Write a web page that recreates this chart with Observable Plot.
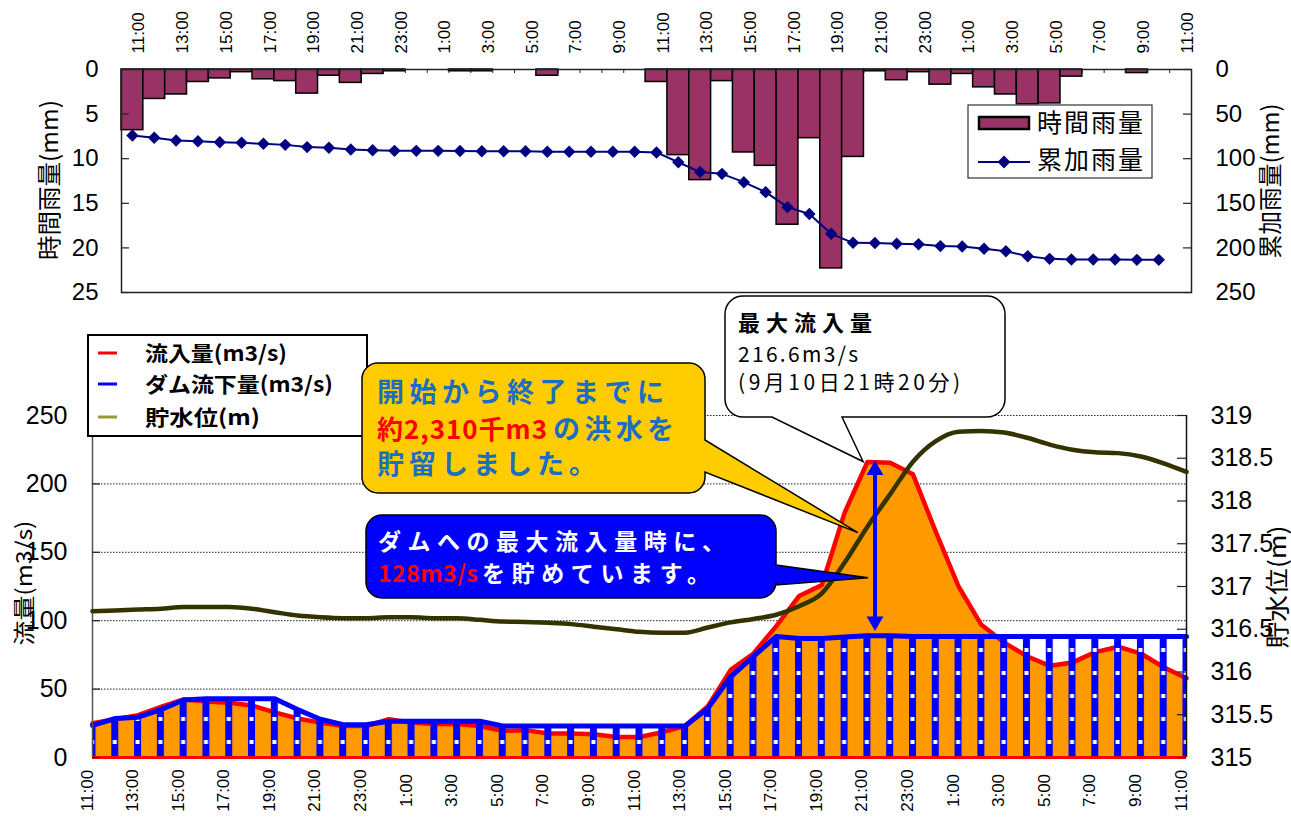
<!DOCTYPE html>
<html><head><meta charset="utf-8">
<script src="https://cdn.jsdelivr.net/npm/d3@7"></script>
<script src="https://cdn.jsdelivr.net/npm/@observablehq/plot@0.6"></script>
<style>
html,body{margin:0;padding:0;background:#fff;}
#wrap{position:relative;width:1291px;height:821px;overflow:hidden;font-family:"Liberation Sans",Arial,sans-serif;}
#wrap > svg{position:absolute;left:0;}
</style></head>
<body><div id="wrap"></div>
<script>
// ---- data ----
const timeLabels = ["11:00","12:00","13:00","14:00","15:00","16:00","17:00","18:00","19:00","20:00","21:00","22:00","23:00",
  "0:00","1:00","2:00","3:00","4:00","5:00","6:00","7:00","8:00","9:00","10:00","11:00","12:00","13:00","14:00","15:00","16:00","17:00","18:00","19:00","20:00","21:00","22:00","23:00",
  "0:00","1:00","2:00","3:00","4:00","5:00","6:00","7:00","8:00","9:00","10:00","11:00"];
const hourlyRain = [6.8,3.3,2.8,1.4,1.0,0.3,1.1,1.3,2.7,0.7,1.5,0.5,0.2,
  0,0,0.2,0.2,0,0,0.7,0,0,0,0,
  1.4,9.6,12.4,1.3,9.3,10.8,17.4,7.7,22.3,9.8,
  0.2,1.2,0.3,1.7,0.5,2.0,2.8,3.9,3.8,0.8,0,0,0.4,0,0];
const cumulativeRain = [74,76.6,79.5,80.5,81.5,82.2,83.3,84.5,87,87.8,89.6,90.6,91.2,
  91.2,91.2,91.4,91.6,91.6,91.6,92.2,92.2,92.2,92.2,92.2,
  93,104,115,117,126.3,137.5,154.3,162,184.2,194.3,
  194.6,195.4,196,198,198.4,201,203.7,209.3,212.3,213,213,213,213.4,213.4,null];
const inflow = [25,28,31,37,42.5,41,40,38,33,28.5,25.5,23,23,
  28,25.5,24.5,24.5,23,19.5,20,17.5,17.5,17,15,
  15,18.5,23,37.5,64,76,96,118,126,179,
  216,215.5,207,165,125,97,84,74,67,69.5,77,81,76,66,58];
const discharge = [23.5,28.5,29.5,35,42,43,43,43,43,35,28,24,24,
  26.5,26.5,26.5,26.5,26.5,23,23,23,23,23,23,
  23,23,23,36,59,74,88.5,87,87,88,
  89,89,88.5,88.5,88.5,88.5,88.5,88.5,88.5,88.5,88.5,88.5,88.5,88.5,88.5];
const waterLevel = [316.71,316.72,316.73,316.74,316.76,316.76,316.76,316.74,316.70,316.66,316.64,316.63,316.63,
  316.64,316.64,316.63,316.63,316.61,316.59,316.585,316.575,316.56,316.53,316.50,
  316.47,316.46,316.46,316.52,316.58,316.62,316.67,316.77,316.92,317.28,
  317.70,318.08,318.46,318.70,318.81,318.82,318.80,318.74,318.66,318.60,318.57,318.56,318.52,318.44,318.34];
const peakInflow = {time: 34 + 20/60, value: 216.6, stored: 128};
const rainTicks = [0,5,10,15,20,25];
const cumTicks = [0,50,100,150,200,250];
const flowTicks = [0,50,100,150,200,250];
const levelTicks = [315,315.5,316,316.5,317,317.5,318,318.5,319];

// ---- rows ----
const idx = d3.range(timeLabels.length);
const rows = idx.map(i => ({i, label: timeLabels[i], rain: hourlyRain[i], cum: cumulativeRain[i],
  inflow: inflow[i], discharge: discharge[i], level: waterLevel[i]}));
const labelIdx = idx.filter(i => i % 2 === 0);
const lvl = v => (v - 315) * 250 / 4;   // water level -> flow-axis units
const cumY = v => v / 10;               // cumulative -> hourly-axis units

const JP = '"Noto Sans CJK JP","Noto Sans",sans-serif';
const LAT = '"Liberation Sans",Arial,sans-serif';
const wrap = document.getElementById("wrap");

// ---- top chart ----
const topW = 1070, topH = 223;
const topPlot = Plot.plot({
  width: 1291, height: 312,
  marginTop: 69, marginBottom: 20, marginLeft: 121, marginRight: 100,
  style: {background: "transparent", fontFamily: LAT, color: "#000"},
  x: {domain: [-0.5, 48.5], axis: null, label: null},
  y: {domain: [0, 25], reverse: true, axis: null, label: null},
  marks: [
    Plot.rect(rows.filter(d => d.rain > 0), {x1: d => d.i - 0.5, x2: d => d.i + 0.5, y1: 0, y2: "rain",
      fill: "#993366", stroke: "#000", strokeWidth: 1.5}),
    Plot.line(rows.filter(d => d.cum != null), {x: "i", y: d => cumY(d.cum), stroke: "#000080", strokeWidth: 2}),
    Plot.dot(rows.filter(d => d.cum != null), {x: "i", y: d => cumY(d.cum), symbol: "diamond2", r: 5.6, fill: "#000080", stroke: "none"}),
    Plot.frame({stroke: "#222", strokeWidth: 1.5}),
    Plot.tickY(rainTicks, {y: d => d, insetRight: topW - 8, stroke: "#222", strokeWidth: 1.2}),
    Plot.tickY(rainTicks, {y: d => d, insetLeft: topW - 8, stroke: "#222", strokeWidth: 1.2}),
    Plot.tickX(d3.range(50).map(k => k - 0.5), {x: d => d, insetBottom: topH - 4, stroke: "#222", strokeWidth: 1}),
    Plot.axisY(rainTicks, {anchor: "left", label: null, tickSize: 0, tickPadding: 23, fontSize: 24, tickFormat: d => d}),
    Plot.axisY(cumTicks.map(cumY), {anchor: "right", label: null, tickSize: 0, tickPadding: 24, fontSize: 24, tickFormat: d => Math.round(d * 10)}),
    Plot.text(labelIdx, {x: d => d, text: d => timeLabels[d], frameAnchor: "top", dy: -16, rotate: -90,
      textAnchor: "start", fontSize: 17, fill: "#000"})
  ]
});
topPlot.style.top = "0px";
wrap.appendChild(topPlot);

// ---- bottom chart ----
const botTop = 300, botW = 1094;
const arrowRow = [{t: peakInflow.time, high: peakInflow.value, low: peakInflow.value - peakInflow.stored}];
const botPlot = Plot.plot({
  width: 1291, height: 521,
  marginTop: 115, marginBottom: 64, marginLeft: 92, marginRight: 105,
  style: {background: "transparent", fontFamily: LAT, color: "#000"},
  x: {domain: [0, 48], axis: null, label: null},
  y: {domain: [0, 250], axis: null, label: null},
  marks: [
    Plot.gridY([50, 100, 150, 200, 250], {stroke: "#222", strokeOpacity: 1, strokeDasharray: "1.5,1.5", strokeWidth: 1}),
    Plot.areaY(rows, {x: "i", y: "inflow", fill: "#FF9900"}),
    Plot.line(rows, {x: "i", y: "inflow", stroke: "#FF0000", strokeWidth: 4.5}),
    Plot.areaY(rows, {x: "i", y: "discharge", fill: "url(#dischargeStripes)"}),
    Plot.line(rows, {x: "i", y: "discharge", stroke: "#0000FF", strokeWidth: 5}),
    Plot.ruleY([0], {stroke: "#FF0000", strokeWidth: 3}),
    Plot.ruleX([0], {stroke: "#555", strokeWidth: 1.5}),
    Plot.ruleX([48], {stroke: "#111", strokeWidth: 1.5}),
    Plot.line(rows, {x: "i", y: d => lvl(d.level), stroke: "#333300", strokeWidth: 4.5, curve: "monotone-x"}),
    Plot.ruleX(arrowRow, {x: "t", y1: "high", y2: "low", stroke: "#0000FF", strokeWidth: 4, insetTop: 10, insetBottom: 16}),
    Plot.dot(arrowRow, {x: "t", y: "high", symbol: "triangle2", r: 8, fill: "#0000FF", stroke: "none", dy: 9}),
    Plot.dot(arrowRow, {x: "t", y: "low", symbol: "triangle2", r: 8, fill: "#0000FF", stroke: "none", rotate: 180, dy: -15}),
    Plot.tickY(flowTicks, {y: d => d, insetRight: botW - 8, stroke: "#222", strokeWidth: 1.2}),
    Plot.tickY(levelTicks.map(lvl), {y: d => d, insetLeft: botW - 9, stroke: "#222", strokeWidth: 1.2}),
    Plot.axisY(flowTicks, {anchor: "left", label: null, tickSize: 0, tickPadding: 25, fontSize: 25, tickFormat: d => d}),
    Plot.axisY(levelTicks.map(lvl), {anchor: "right", label: null, tickSize: 0, tickPadding: 24, fontSize: 25,
      tickFormat: d => String(+(315 + d * 4 / 250).toFixed(1))}),
    Plot.text(labelIdx, {x: d => d, text: d => timeLabels[d], frameAnchor: "bottom", dy: 33, rotate: -90,
      textAnchor: "middle", fontSize: 17, fill: "#000"})
  ]
});
botPlot.style.top = botTop + "px";
wrap.appendChild(botPlot);

// stripe pattern for the discharge area, aligned with the hourly positions of the x scale
const NS = "http://www.w3.org/2000/svg";
function el(tag, attrs, parent, text) {
  const e = document.createElementNS(NS, tag);
  for (const k in attrs) e.setAttribute(k, attrs[k]);
  if (text != null) e.textContent = text;
  if (parent) parent.appendChild(e);
  return e;
}
{
  const xs = botPlot.scale("x");
  const x0 = xs.apply(0), step = xs.apply(1) - x0;
  const defs = el("defs", {});
  botPlot.insertBefore(defs, botPlot.firstChild);
  const pat = el("pattern", {id: "dischargeStripes", patternUnits: "userSpaceOnUse",
    x: x0 - 3.5, y: 440, width: step, height: 23}, defs);
  el("rect", {x: 0, y: 0, width: 7, height: 23, fill: "#0000FF"}, pat);
  el("rect", {x: 1.5, y: 0, width: 4, height: 4, fill: "#FFFFFF"}, pat);
}

// ---- overlay: axis titles, legends, callouts ----
const ov = el("svg", {width: 1291, height: 821, viewBox: "0 0 1291 821"});
ov.style.top = "0px";
ov.style.pointerEvents = "none";
wrap.appendChild(ov);

function vtitle(txt, cx, cy, size, len) {
  el("text", {transform: `translate(${cx},${cy}) rotate(-90)`, "text-anchor": "middle", "dominant-baseline": "central",
    "font-family": JP, "font-size": size, fill: "#000", textLength: len, lengthAdjust: "spacingAndGlyphs"}, ov, txt);
}
vtitle("時間雨量(mm)", 47, 180, 24, 160);
vtitle("累加雨量(mm)", 1268, 181, 24, 155);
vtitle("流量(m3/s)", 22, 583, 22, 125);
vtitle("貯水位(m)", 1275, 587, 24, 123);

// top legend
el("rect", {x: 968, y: 105, width: 184, height: 73, fill: "#fff", stroke: "#333", "stroke-width": 1.2}, ov);
el("rect", {x: 979, y: 117, width: 50, height: 12, fill: "#993366", stroke: "#000", "stroke-width": 2.5}, ov);
el("text", {x: 1037, y: 132, "font-family": JP, "font-size": 25, fill: "#000", textLength: 106}, ov, "時間雨量");
el("line", {x1: 978, x2: 1030, y1: 162, y2: 162, stroke: "#000080", "stroke-width": 2}, ov);
el("path", {d: "M1004,155.5L1010.5,162L1004,168.5L997.5,162Z", fill: "#000080"}, ov);
el("text", {x: 1037, y: 169, "font-family": JP, "font-size": 25, fill: "#000", textLength: 106}, ov, "累加雨量");

// bottom legend
el("rect", {x: 88, y: 335, width: 279, height: 101, fill: "#fff", stroke: "#000", "stroke-width": 2}, ov);
[["流入量(m3/s)", "#FF0000", 353, 142], ["ダム流下量(m3/s)", "#0000FF", 384, 188], ["貯水位(m)", "#999933", 417, 115]]
  .forEach(([t, c, y, len]) => {
    el("line", {x1: 98, x2: 117, y1: y, y2: y, stroke: c, "stroke-width": 3}, ov);
    el("text", {x: 145, y: y + 8, "font-family": JP, "font-size": 21, "font-weight": "bold", fill: "#000",
      textLength: len, lengthAdjust: "spacingAndGlyphs"}, ov, t);
  });

// callout shapes
function rrPath(x, y, w, h, r, ptr) {
  let p = `M${x + r},${y}H${x + w - r}A${r},${r} 0 0 1 ${x + w},${y + r}`;
  if (ptr && ptr.side === "right") p += `V${ptr.a}L${ptr.tx},${ptr.ty}L${x + w},${ptr.b}`;
  p += `V${y + h - r}A${r},${r} 0 0 1 ${x + w - r},${y + h}`;
  if (ptr && ptr.side === "bottom") p += `H${ptr.b}L${ptr.tx},${ptr.ty}L${ptr.a},${y + h}`;
  p += `H${x + r}A${r},${r} 0 0 1 ${x},${y + h - r}V${y + r}A${r},${r} 0 0 1 ${x + r},${y}Z`;
  return p;
}
const xs = botPlot.scale("x"), ys = botPlot.scale("y");
const px = v => xs.apply(v), py = v => ys.apply(v) + botTop;

// white callout (peak)
el("path", {d: rrPath(725, 296, 280, 121, 18, {side: "bottom", a: 772, b: 842, tx: px(33.83), ty: py(216)}),
  fill: "#fff", stroke: "#000", "stroke-width": 1.5}, ov);
el("text", {x: 738, y: 331, "font-family": JP, "font-size": 22, "font-weight": "bold", fill: "#000", textLength: 134}, ov, "最大流入量");
el("text", {x: 738, y: 362, "font-family": JP, "font-size": 21, fill: "#000", textLength: 120}, ov, "216.6m3/s");
el("text", {x: 738, y: 390, "font-family": JP, "font-size": 21, fill: "#000", textLength: 222}, ov, "(9月10日21時20分)");

// yellow callout
el("path", {d: rrPath(362, 363, 343, 130, 16, {side: "right", a: 440, b: 472, tx: px(33.6), ty: py(164)}),
  fill: "#FFCC00", stroke: "#000", "stroke-width": 1.5}, ov);
const BL = "#1B6EC2";
el("text", {x: 377, y: 402, "font-family": JP, "font-size": 27, "font-weight": "bold", fill: BL, textLength: 287}, ov, "開始から終了までに");
el("text", {x: 377, y: 439, "font-family": JP, "font-size": 26, "font-weight": "bold", fill: "#FF0000", textLength: 170}, ov, "約2,310千m3");
el("text", {x: 553, y: 439, "font-family": JP, "font-size": 27, "font-weight": "bold", fill: BL, textLength: 121}, ov, "の洪水を");
el("text", {x: 377, y: 474, "font-family": JP, "font-size": 27, "font-weight": "bold", fill: BL, textLength: 219}, ov, "貯留しました。");

// blue callout
el("path", {d: rrPath(366, 515, 410, 83, 16, {side: "right", a: 565, b: 585, tx: px(34.05), ty: py(131)}),
  fill: "#0000FF", stroke: "#000", "stroke-width": 1.5}, ov);
el("text", {x: 378, y: 550, "font-family": JP, "font-size": 23, "font-weight": "bold", fill: "#fff", textLength: 347}, ov, "ダムへの最大流入量時に、");
el("text", {x: 378, y: 582, "font-family": JP, "font-size": 23, "font-weight": "bold", fill: "#FF0000", textLength: 100}, ov, "128m3/s");
el("text", {x: 482, y: 582, "font-family": JP, "font-size": 23, "font-weight": "bold", fill: "#fff", textLength: 228}, ov, "を貯めています。");
</script>
</body></html>
